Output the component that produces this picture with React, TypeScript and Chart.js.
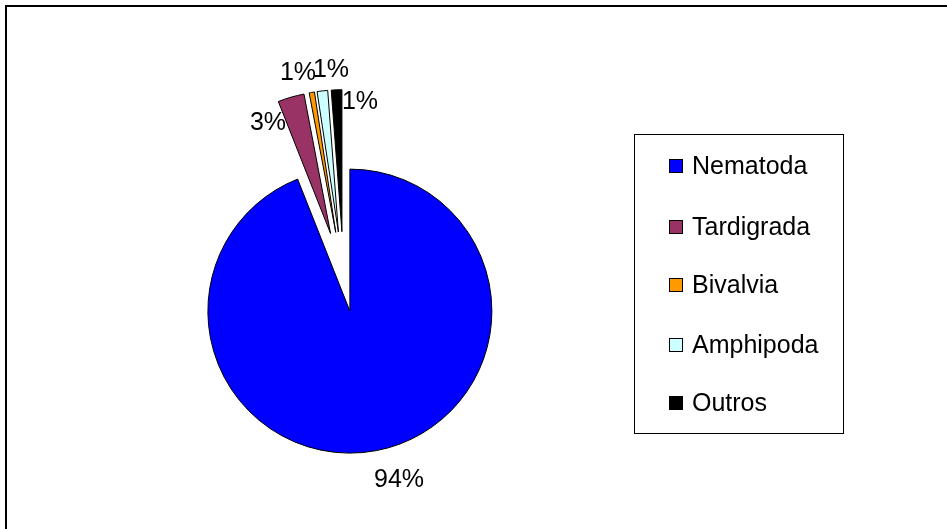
import React, { useEffect, useRef } from 'react';
import { Chart, registerables } from 'chart.js';

Chart.register(...registerables);

// ---- data ----
const categories = ['Nematoda', 'Tardigrada', 'Bivalvia', 'Amphipoda', 'Outros'];
const shares = [94.0, 3.0, 0.6, 1.2, 1.2];
const percentLabels = ['94%', '3%', '1%', '1%', '1%'];
const sliceColors = ['#0000FF', '#993366', '#FF9900', '#CCFFFF', '#000000'];

// ---- style ----
const FONT = '"Liberation Sans", Arial, Helvetica, sans-serif';
const RADIUS = 142;
const EXPLODE = [33, 47, 47, 47, 47];
const LABEL_NUDGE = [[22.5, 29.5], [-23, 25.7], [-13.8, -19.3], [8.6, -20.9], [23.4, 12.2]];
const LEGEND_ROWS = [166, 227, 285, 345, 403];

const framePlugin = {
  id: 'frame',
  beforeDraw(chart: any) {
    const ctx = chart.ctx;
    ctx.save();
    ctx.fillStyle = '#ffffff';
    ctx.fillRect(0, 0, chart.width, chart.height);
    ctx.strokeStyle = '#000000';
    ctx.lineWidth = 2;
    ctx.strokeRect(6, 6, chart.width + 20, chart.height + 20);
    ctx.restore();
  },
};

// Make Chart.js' exploded arcs behave like a rigid shift of the slice:
// keep drawn radius and angular span equal to the un-exploded slice.
const explodePlugin = {
  id: 'explodeFix',
  afterUpdate(chart: any) {
    const meta = chart.getDatasetMeta(0);
    meta.data.forEach((arc: any, i: number) => {
      const shift = EXPLODE[i];
      if (!shift) return;
      const fix = 1 - Math.sin(Math.min(Math.PI, arc.circumference));
      const radiusOffset = shift * fix;
      arc.outerRadius = RADIUS - radiusOffset;
      const extra = radiusOffset / (Math.PI * RADIUS);
      arc.startAngle -= extra / 2;
      arc.endAngle += extra / 2;
    });
  },
};

const labelPlugin = {
  id: 'pctLabels',
  afterDatasetsDraw(chart: any) {
    const ctx = chart.ctx;
    const meta = chart.getDatasetMeta(0);
    ctx.save();
    ctx.font = `25px ${FONT}`;
    ctx.fillStyle = '#000000';
    ctx.textAlign = 'center';
    ctx.textBaseline = 'middle';
    meta.data.forEach((arc: any, i: number) => {
      const mid = (arc.startAngle + arc.endAngle) / 2;
      const r = RADIUS + EXPLODE[i];
      const x = arc.x + Math.cos(mid) * r + LABEL_NUDGE[i][0];
      const y = arc.y + Math.sin(mid) * r + LABEL_NUDGE[i][1];
      ctx.fillText(percentLabels[i], x, y);
    });
    ctx.restore();
  },
};

const legendPlugin = {
  id: 'boxLegend',
  afterDraw(chart: any) {
    const ctx = chart.ctx;
    const meta = chart.getDatasetMeta(0);
    ctx.save();
    ctx.strokeStyle = '#000000';
    ctx.lineWidth = 1;
    ctx.strokeRect(634.5, 134.5, 209, 299);
    ctx.font = `25px ${FONT}`;
    ctx.textAlign = 'left';
    ctx.textBaseline = 'middle';
    categories.forEach((name, i) => {
      const cy = LEGEND_ROWS[i];
      const top = Math.round(cy - 7);
      ctx.fillStyle = meta.data[i].options.backgroundColor;
      ctx.fillRect(669, top, 14, 14);
      ctx.strokeRect(669.5, top + 0.5, 13, 13);
      ctx.fillStyle = '#000000';
      ctx.fillText(name, 692, cy + 1);
    });
    ctx.restore();
  },
};

export default function App() {
  const ref = useRef<HTMLCanvasElement | null>(null);
  useEffect(() => {
    if (!ref.current) return;
    const chart = new Chart(ref.current, {
      type: 'pie',
      data: {
        labels: categories,
        datasets: [
          {
            data: shares,
            backgroundColor: sliceColors,
            borderColor: '#000000',
            borderWidth: 1,
            offset: EXPLODE.map((e) => e * 4),
            hoverOffset: 0,
            clip: false as any,
          } as any,
        ],
      },
      options: {
        responsive: false,
        animation: false,
        radius: RADIUS,
        layout: { padding: { left: 0, right: 259.6, top: 28.4, bottom: 0 } },
        events: [],
        plugins: {
          legend: { display: false },
          tooltip: { enabled: false },
        },
      } as any,
      plugins: [framePlugin, explodePlugin, labelPlugin, legendPlugin],
    });
    return () => chart.destroy();
  }, []);
  return (
    <div style={{ position: 'absolute', left: 0, top: 0, width: 947, height: 529 }}>
      <canvas ref={ref} width={947} height={529} />
    </div>
  );
}
